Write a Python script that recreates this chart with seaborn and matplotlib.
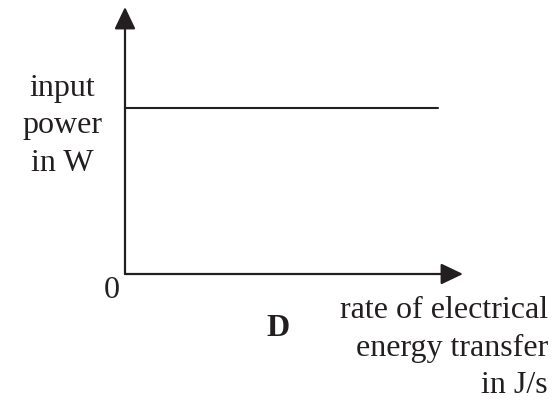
import matplotlib
matplotlib.use("Agg")
import matplotlib.pyplot as plt
import seaborn as sns
import pandas as pd

# sketch graph D: input power stays constant as rate of energy transfer rises
rate = [0.0, 0.926]
power = [0.622, 0.622]
y_label = "input\npower\nin W"
x_label = "rate of electrical\nenergy transfer\nin J/s"
panel = "D"

sns.set_theme(style="white")
plt.rcParams["font.family"] = ["Liberation Serif", "DejaVu Serif"]

fig = plt.figure(figsize=(5.55, 4.04), dpi=100)
ax = fig.add_axes([125 / 555, 130 / 404, 338 / 555, 267 / 404])

df = pd.DataFrame({"rate": rate, "power": power})
sns.lineplot(data=df, x="rate", y="power", color="#231f20", linewidth=1.5, ax=ax)

ax.set_xlim(0, 1)
ax.set_ylim(0, 1)
for s in ax.spines.values():
    s.set_visible(False)
ax.set_xticks([])
ax.set_yticks([])
ax.set_xlabel("")
ax.set_ylabel("")

arrow = dict(arrowstyle="-|>,head_length=0.9,head_width=0.43", color="#231f20",
             lw=1.6, shrinkA=0, shrinkB=0, mutation_scale=15)
ax.annotate("", xy=(0, 1), xytext=(0, 0), xycoords="axes fraction",
            arrowprops=arrow, annotation_clip=False)
ax.annotate("", xy=(1, 0), xytext=(0, 0), xycoords="axes fraction",
            arrowprops=arrow, annotation_clip=False)

fs = 23
fig.text(62 / 555, 1 - 126 / 404, y_label, ha="center", va="center",
         fontsize=fs, linespacing=1.37, color="#231f20")
fig.text(112 / 555, 1 - 290 / 404, "0", ha="center", va="center",
         fontsize=fs, color="#231f20")
fig.text(278 / 555, 1 - 328 / 404, panel, ha="center", va="center",
         fontsize=fs, fontweight="bold", color="#231f20")
fig.text(548 / 555, 1 - 348 / 404, x_label, ha="right", va="center",
         fontsize=fs, linespacing=1.37, color="#231f20", multialignment="right")

fig.savefig("out.png", dpi=100)
